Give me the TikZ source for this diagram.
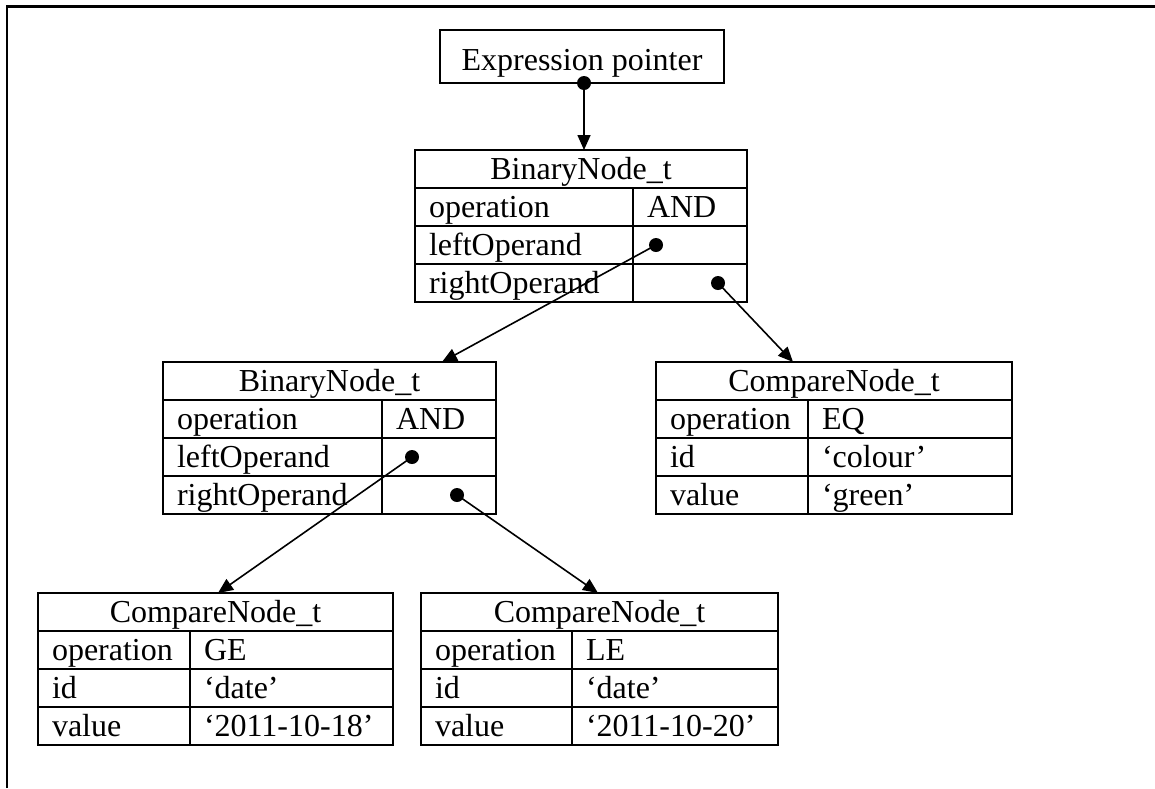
\documentclass[tikz,border=0pt]{standalone}
\usepackage{fontspec}
\setmainfont{Liberation Serif}
\usetikzlibrary{arrows.meta}
\tikzset{
 frame/.style={line width=2.2pt},
 cellbase/.style={draw, line width=2.2pt, inner ysep=0pt, outer sep=0pt, text height=29pt, text depth=9pt, minimum height=38pt, font=\fontsize{32}{38}\selectfont, anchor=north west},
 hcell/.style={cellbase, inner xsep=0pt, align=center},
 fcell/.style={cellbase, inner xsep=14pt, align=left},
 eptr/.style={draw, line width=2.2pt, inner sep=0pt, outer sep=0pt, minimum width=284pt, minimum height=53pt, text height=40pt, text depth=13pt, font=\fontsize{32}{38}\selectfont},
 dot/.style={circle, fill, inner sep=0pt, minimum size=14pt},
 conn/.style={line width=1.6pt, -{Triangle[length=15pt,width=13pt]}},
}
\newcommand{\tbhead}[5]{%
 \pgfmathsetmacro\tbhw{#3+#4}%
 \node[hcell, minimum width=\tbhw pt] (#1-h) at (#2) {#5};}
\newcommand{\tbrow}[7]{%
 \pgfmathsetmacro\tbwl{#4-28}\pgfmathsetmacro\tbwr{#5-28}%
 \node[fcell, text width=\tbwl pt] (#1-#3a) at (#2.south west) {#6};
 \node[fcell, text width=\tbwr pt] (#1-#3b) at (#1-#3a.north east) {#7};}
\begin{document}
\begin{tikzpicture}[x=1pt,y=-1pt]
\useasboundingbox (0,0) rectangle (1155,788);
\draw[frame] (7,788) -- (7,6.5) -- (1155,6.5);

\node[eptr] (ep) at (582,56.5) {Expression pointer};

% top binary node
\tbhead{A}{415,150}{218}{114}{BinaryNode\_t}
\tbrow{A}{A-h}{1}{218}{114}{operation}{AND}
\tbrow{A}{A-1a}{2}{218}{114}{leftOperand}{}
\tbrow{A}{A-2a}{3}{218}{114}{rightOperand}{}

% second binary node
\tbhead{B}{163,362}{219}{114}{BinaryNode\_t}
\tbrow{B}{B-h}{1}{219}{114}{operation}{AND}
\tbrow{B}{B-1a}{2}{219}{114}{leftOperand}{}
\tbrow{B}{B-2a}{3}{219}{114}{rightOperand}{}

% compare EQ
\tbhead{C}{656,362}{152}{204}{CompareNode\_t}
\tbrow{C}{C-h}{1}{152}{204}{operation}{EQ}
\tbrow{C}{C-1a}{2}{152}{204}{id}{‘colour’}
\tbrow{C}{C-2a}{3}{152}{204}{value}{‘green’}

% compare GE
\tbhead{D}{38,593}{152}{203}{CompareNode\_t}
\tbrow{D}{D-h}{1}{152}{203}{operation}{GE}
\tbrow{D}{D-1a}{2}{152}{203}{id}{‘date’}
\tbrow{D}{D-2a}{3}{152}{203}{value}{‘2011-10-18’}

% compare LE
\tbhead{E}{421,593}{151}{206}{CompareNode\_t}
\tbrow{E}{E-h}{1}{151}{206}{operation}{LE}
\tbrow{E}{E-1a}{2}{151}{206}{id}{‘date’}
\tbrow{E}{E-2a}{3}{151}{206}{value}{‘2011-10-20’}

% pointer dots
\node[dot] (d0) at ([xshift=2pt]ep.south) {};
\node[dot] (dAl) at ([xshift=23pt]A-2b.west) {};
\node[dot] (dAr) at ([xshift=85pt]A-3b.west) {};
\node[dot] (dBl) at ([xshift=30pt]B-2b.west) {};
\node[dot] (dBr) at ([xshift=75pt]B-3b.west) {};

% arrow targets
\coordinate (tA) at (d0 |- A-h.north);
\coordinate (tB) at ([xshift=279pt]B-h.north west);
\coordinate (tC) at ([xshift=137pt]C-h.north west);
\coordinate (tD) at ([xshift=180pt]D-h.north west);
\coordinate (tE) at ([xshift=177pt]E-h.north west);

\draw[conn] (d0.center) -- (tA);
\draw[conn] (dAl.center) -- (tB);
\draw[conn] (dAr.center) -- (tC);
\draw[conn] (dBl.center) -- (tD);
\draw[conn] (dBr.center) -- (tE);
\end{tikzpicture}
\end{document}
